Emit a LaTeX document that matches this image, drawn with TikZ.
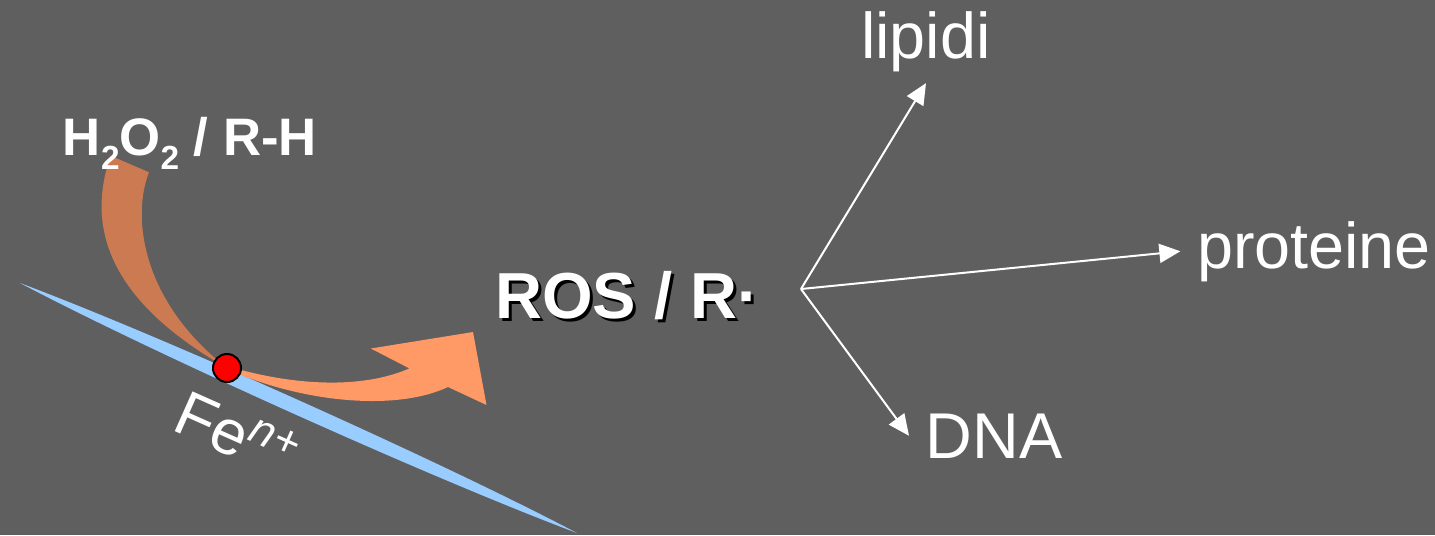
\documentclass[tikz,border=0pt]{standalone}
\usepackage{fontspec}
\setmainfont{Liberation Sans}
\usepackage{tikz}
\usetikzlibrary{arrows.meta}
\definecolor{bggray}{RGB}{95,95,95}
\definecolor{ironblue}{RGB}{153,204,255}
\definecolor{flowlight}{RGB}{255,153,102}
\definecolor{flowdark}{RGB}{204,122,82}
\newcommand{\lowtwo}{\raisebox{-0.28em}{\fontsize{9.5}{10}\selectfont 2}}

\begin{document}
\begin{tikzpicture}[x=0.01cm, y=-0.01cm,
			mylabel/.style={text=white, font=\fontsize{18.4}{20}\selectfont, inner sep=0.16cm},
			mybold/.style={text=white, font=\bfseries\fontsize{18.5}{20}\selectfont, inner sep=0},
			mysmall/.style={text=white, font=\bfseries\fontsize{15}{18}\selectfont, inner sep=0},
			myarrow/.style={draw=white, line width=0.02cm, -{Triangle[length=0.21cm,width=0.19cm]}}
		]
		\path[use as bounding box, fill=bggray] (0,0) rectangle (1435,535);

		\fill[ironblue] (20,283) .. controls (163.2,336.8) and (441.7,461.8) .. (577,533)
			.. controls (433.8,479.2) and (155.3,354.2) .. (20,283) -- cycle;

		\fill[flowdark] (110.6,155.7) .. controls (92,210) and (90,290) .. (227,368)
			.. controls (140,300) and (132,215) .. (149,172.3) -- cycle;
		\fill[flowlight] (227,369) .. controls (300,402) and (395,412) .. (448,387)
			-- (486.5,405) -- (473,332) -- (370.8,348.5) -- (409.4,368.4)
			.. controls (360,390) and (290,385) .. (227,366) -- cycle;

		\node[circle, draw=black, fill=red, line width=0.02cm, minimum size=0.28cm, inner sep=0] (site) at (227,368) {};
		\node[mylabel, inner sep=0, font=\fontsize{18}{20}\selectfont, rotate=-24, anchor=base] (iron) at (228,455) {Fe\textsuperscript{\itshape n+}};

		\node[mysmall, anchor=base] (substrate) at (190,155) {H\lowtwo O\lowtwo{} / R-H};

		\node[mybold, text=black, anchor=base] (rosshadow) at (630,321) {ROS / R·};
		\node[mybold, anchor=base] (ros) at (627,318) {ROS / R·};

		\node[mylabel, inner sep=0.11cm, anchor=base] (lipidi) at (926,58) {lipidi};
		\node[mylabel, anchor=base] (proteine) at (1314,268) {proteine};
		\node[mylabel, anchor=base] (dna) at (994,458) {DNA};

		\coordinate (hub) at (801,289);
		\draw[myarrow] (hub) -- (lipidi.south);
		\draw[myarrow] (hub) -- (proteine.west);
		\draw[myarrow] (hub) -- (dna.west);

	\end{tikzpicture}
\end{document}
